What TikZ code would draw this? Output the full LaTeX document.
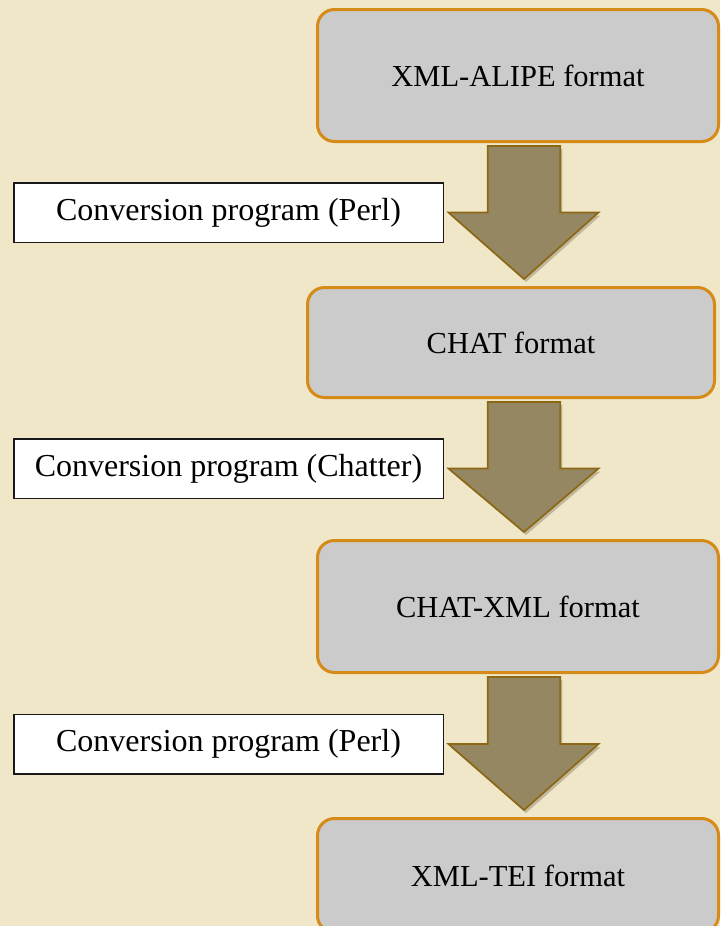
\documentclass[tikz,border=0pt]{standalone}
\usepackage{fontspec}
\setmainfont{Liberation Serif}
\usetikzlibrary{calc,shadows,positioning}
\definecolor{parchment}{RGB}{239,231,199}
\definecolor{boxgray}{RGB}{203,203,203}
\definecolor{boxorange}{RGB}{214,139,24}
\definecolor{arrowfill}{RGB}{149,135,98}
\definecolor{arrowedge}{RGB}{140,104,20}

% block arrow: from box #1 down past label #2 to box #3
\newcommand{\flowarrow}[3]{%
  \draw[blockarrow] let \p1=(#1.south), \p2=(#2.center), \p3=(#3.north) in
    (487.75pt,\y1-3pt) -- (560.25pt,\y1-3pt) -- (560.25pt,\y2) -- (598.5pt,\y2)
    -- (524pt,\y3+7pt) -- (448.5pt,\y2) -- (487.75pt,\y2) -- cycle;}

\begin{document}
\begin{tikzpicture}[
    x=1pt, y=-1pt,
    fmtbox/.style={rectangle, draw=boxorange, line width=3pt, fill=boxgray, rounded corners=17pt, minimum width=401pt, minimum height=132pt, font=\fontsize{30.5}{36}\selectfont, text centered},
    convlabel/.style={rectangle, draw=black!90, line width=1.5pt, fill=white, minimum width=429.5pt, minimum height=59.5pt, font=\fontsize{32}{38}\selectfont},
    blockarrow/.style={draw=arrowedge, line width=1.7pt, fill=arrowfill, line join=miter, drop shadow={shadow xshift=2pt, shadow yshift=-3pt, fill=black, opacity=0.2}}
]

% Page and background
\clip (0,0) rectangle (720,926);
\fill[parchment] (0,0) rectangle (720,926);

% Format boxes
\node[fmtbox] (alipe) at (518,75.5) {\raisebox{-3pt}{XML-ALIPE format}};
\node[fmtbox, minimum width=407pt, minimum height=110pt] (chat) at (511,342.5) {\raisebox{-2pt}{CHAT format}};
\node[fmtbox] (chatxml) at (518,606.5) {\raisebox{-2pt}{CHAT-XML format}};
\node[fmtbox, minimum height=114pt] (tei) at (518,875.5) {XML-TEI format};

% Conversion labels
\node[convlabel] (perl1) at (228.5,212.5) {Conversion program (Perl)};
\node[convlabel] (chatter) at (228.5,468.5) {Conversion program (Chatter)};
\node[convlabel] (perl2) at (228.5,744) {Conversion program (Perl)};

% Arrows
\flowarrow{alipe}{perl1}{chat}
\flowarrow{chat}{chatter}{chatxml}
\flowarrow{chatxml}{perl2}{tei}

\end{tikzpicture}
\end{document}
